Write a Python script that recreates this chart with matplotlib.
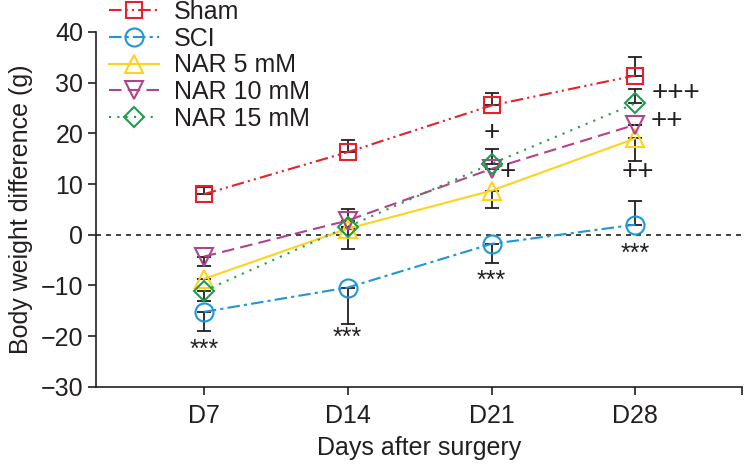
import matplotlib
matplotlib.use('Agg')
from matplotlib import pyplot as plt

plt.rcParams['font.family'] = ['Liberation Sans', 'DejaVu Sans']

days = ['D7', 'D14', 'D21', 'D28']
x = [1, 2, 3, 4]

sham = [8.0, 16.3, 25.5, 31.4]
sci = [-15.2, -10.4, -1.8, 2.0]
nar5 = [-8.7, 1.2, 8.7, 19.0]
nar10 = [-4.3, 2.8, 13.0, 21.7]
nar15 = [-11.1, 1.6, 14.0, 25.9]

# error bars (lower, upper)
sham_err = [[0, 0, 0, 0], [1.5, 2.3, 2.5, 3.6]]
sci_err = [[3.8, 7.2, 3.8, 0], [0, 0, 0, 4.7]]
nar5_err = [[0, 4.0, 3.4, 4.4], [0, 0, 0, 0]]
nar10_err = [[1.8, 0, 0, 0], [0, 2.3, 0, 0]]
nar15_err = [[1.9, 0, 0, 0], [0, 0, 3.0, 2.9]]

fig = plt.figure(figsize=(7.44, 4.69), dpi=100)
ax = fig.add_axes([0.129, 0.175, 0.868, 0.757])

series = [
    ('Sham', sham, sham_err, '#E8202A', (0, (6, 2, 1, 2, 1, 2)), 's', 11),
    ('SCI', sci, sci_err, '#1E96D8', (0, (6, 2, 1.5, 2)), 'o', 13),
    ('NAR 5 mM', nar5, nar5_err, '#FFD21E', '-', '^', 13),
    ('NAR 10 mM', nar10, nar10_err, '#B0438C', (0, (6, 3)), 'v', 13),
    ('NAR 15 mM', nar15, nar15_err, '#1E9E4A', (0, (1, 3)), 'D', 10),
]

for name, y, err, c, ls, m, ms in series:
    ax.errorbar(x, y, yerr=err, fmt='none', ecolor='#231F20', elinewidth=1.3,
                capsize=5, capthick=1.3, zorder=2)
    ax.plot(x, y, color=c, linestyle=ls, linewidth=1.5, marker=m, markersize=ms,
            markerfacecolor='none', markeredgecolor=c, markeredgewidth=1.5,
            label=name, zorder=3)

ax.axhline(0, color='#231F20', linestyle=(0, (3, 3)), linewidth=1.2, zorder=1)

txt = '#231F20'
# significance marks
stars = [(1, -22.6), (2, -20.4), (3, -9.0), (4, -3.7)]
for sx, sy in stars:
    ax.text(sx, sy, '***', ha='center', va='center', fontsize=18, color=txt)
plus = [(3, 20.0, '+'), (3.11, 12.3, '+'), (4.28, 28.0, '+++'),
        (4.22, 22.5, '++'), (4.02, 12.3, '++')]
for px, py, s in plus:
    ax.text(px, py, s, ha='center', va='center', fontsize=20, color=txt)

ax.set_xlim(0.25, 4.74)
ax.set_ylim(-30, 40)
ax.set_xticks(x)
ax.set_xticklabels(days)
ax.set_xticks([4.74], minor=True)
ax.set_yticks(range(-30, 41, 10))
ax.set_yticklabels([str(v).replace('-', '\u2212') for v in range(-30, 41, 10)])
ax.tick_params(axis='both', labelsize=18, length=6, width=1.2, colors=txt)
ax.tick_params(axis='x', which='minor', length=6, width=1.2, colors=txt)
ax.tick_params(axis='x', pad=6)
ax.tick_params(axis='y', pad=3)
for s in ['top', 'right']:
    ax.spines[s].set_visible(False)
for s in ['left', 'bottom']:
    ax.spines[s].set_linewidth(1.2)
    ax.spines[s].set_color(txt)

ax.set_xlabel('Days after surgery', fontsize=18, color=txt, labelpad=6)
ax.set_ylabel('Body weight difference (g)', fontsize=18, color=txt, labelpad=6)

leg = fig.legend(loc='upper left', bbox_to_anchor=(109 / 744, 1.0), frameon=False,
                 fontsize=18, handlelength=2.0, handletextpad=0.6,
                 labelspacing=0.11, borderaxespad=0, borderpad=0)
for t in leg.get_texts():
    t.set_color(txt)

fig.savefig('out.png', dpi=100)
